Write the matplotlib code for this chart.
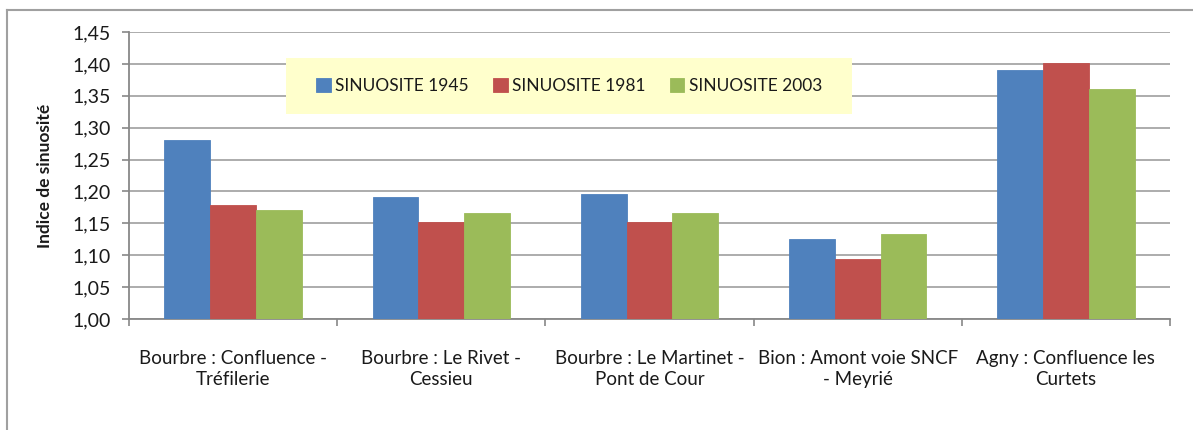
import matplotlib

matplotlib.use("Agg")

import matplotlib.pyplot as plt
import numpy as np
from matplotlib.lines import Line2D
from matplotlib.patches import Rectangle
from matplotlib.ticker import FuncFormatter, FixedLocator

SITES = [
    "Bourbre : Confluence -\nTréfilerie",
    "Bourbre : Le Rivet -\nCessieu",
    "Bourbre : Le Martinet -\nPont de Cour",
    "Bion : Amont voie SNCF\n- Meyrié",
    "Agny : Confluence les\nCurtets",
]
SERIES = ["SINUOSITE 1945", "SINUOSITE 1981", "SINUOSITE 2003"]
SINUOSITE_1945 = [1.281, 1.191, 1.196, 1.126, 1.391]
SINUOSITE_1981 = [1.178, 1.152, 1.152, 1.094, 1.401]
SINUOSITE_2003 = [1.171, 1.166, 1.166, 1.134, 1.361]
COLORS = ["#4F81BD", "#C0504D", "#9BBB59"]

plt.rcParams["font.family"] = ["Lato", "DejaVu Sans"]
TEXT = "#1A1A1A"

fig = plt.figure(figsize=(11.93, 4.30), dpi=100)
ax = fig.add_axes([129 / 1193, 1 - 319 / 430, 1041 / 1193, 287 / 430])

x = np.arange(len(SITES))
width = 0.22
for i, (label, values, color) in enumerate(
    zip(SERIES, [SINUOSITE_1945, SINUOSITE_1981, SINUOSITE_2003], COLORS)
):
    heights = np.array(values) - 1.0
    ax.bar(x + (i - 1) * width, heights, width, bottom=1.0, color=color,
           edgecolor=color, linewidth=0.6, label=label, zorder=3)

ax.set_xlim(-0.5, len(SITES) - 0.5)
ax.set_ylim(1.0, 1.45)
ax.set_yticks(np.arange(1.0, 1.451, 0.05))
ax.yaxis.set_major_formatter(FuncFormatter(lambda v, _: f"{v:.2f}".replace(".", ",")))
ax.grid(axis="y", color="#A6A6A6", linewidth=1.3, zorder=0)
ax.set_axisbelow(True)

ax.set_xticks(x)
ax.set_xticklabels(SITES, fontsize=13.5, color=TEXT, linespacing=1.3)
ax.tick_params(axis="x", which="major", length=0, pad=22)
ax.xaxis.set_minor_locator(FixedLocator(np.arange(-0.5, len(SITES), 1.0)))
ax.tick_params(axis="x", which="minor", length=5, width=1.2, color="#888888", direction="out")
ax.tick_params(axis="y", length=5, width=1.2, color="#888888", labelsize=14,
               labelcolor=TEXT, pad=8)

for side in ("top", "right"):
    ax.spines[side].set_visible(False)
for side in ("left", "bottom"):
    ax.spines[side].set_color("#888888")
    ax.spines[side].set_linewidth(1.3)

ax.set_ylabel("Indice de sinuosité", fontsize=12.5, fontweight="bold", color=TEXT, labelpad=14)

# legend box
box = Rectangle((0.1508, 0.714), 0.5437, 0.195, transform=ax.transAxes,
                facecolor="#FFFFCC", edgecolor="none", zorder=4)
ax.add_patch(box)
leg = ax.legend(loc="center", bbox_to_anchor=(0.1508 + 0.5437 / 2, 0.714 + 0.195 / 2),
                ncol=3, frameon=False, fontsize=12.5, handlelength=0.85, handleheight=0.85,
                handletextpad=0.25, columnspacing=1.4)
leg.set_zorder(5)
for t in leg.get_texts():
    t.set_color(TEXT)

# outer border
fig.add_artist(Line2D([7 / 1193, 7 / 1193], [0, 1 - 10 / 430], color="#A0A0A0",
                      linewidth=1.5, transform=fig.transFigure))
fig.add_artist(Line2D([7 / 1193, 1], [1 - 10 / 430, 1 - 10 / 430], color="#A0A0A0",
                      linewidth=1.5, transform=fig.transFigure))

fig.savefig("out.png", dpi=100)
